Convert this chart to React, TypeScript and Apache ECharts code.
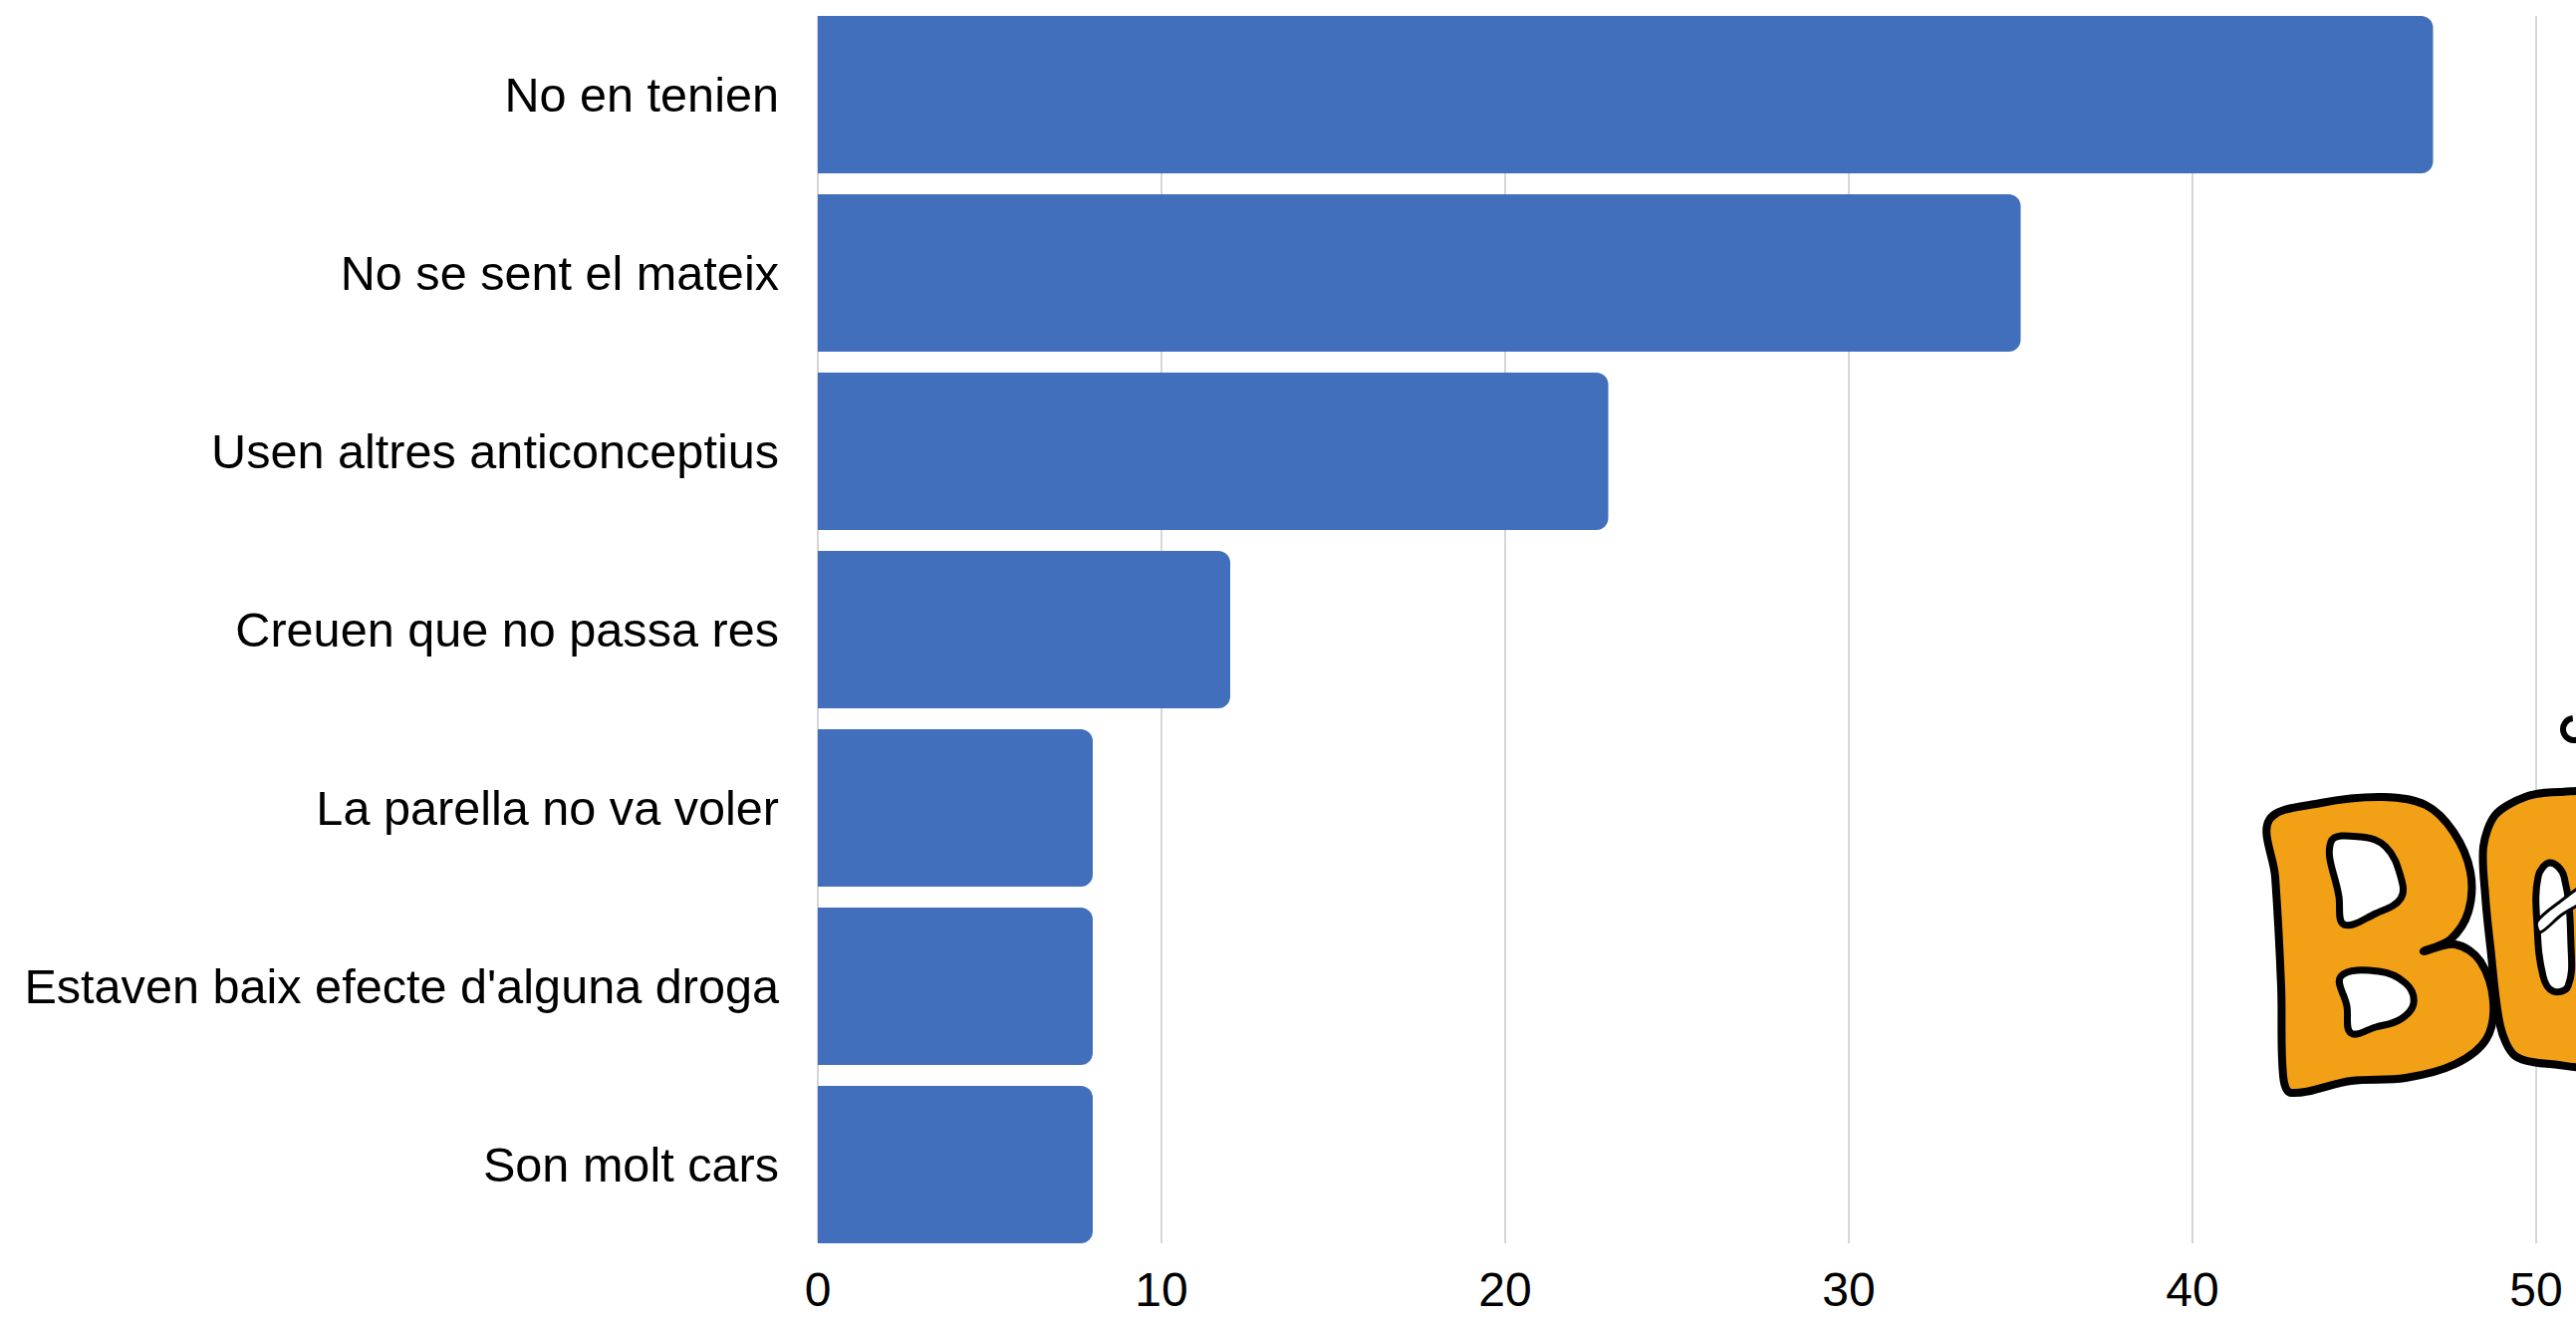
import React, { useEffect, useRef } from "react";
import * as echarts from "echarts";

const categories = [
  "No en tenien",
  "No se sent el mateix",
  "Usen altres anticonceptius",
  "Creuen que no passa res",
  "La parella no va voler",
  "Estaven baix efecte d'alguna droga",
  "Son molt cars",
];
const values = [47, 35, 23, 12, 8, 8, 8];
const axisMin = 0;
const axisMax = 50;
const axisStep = 10;

const FONT = "Liberation Sans, Arial, sans-serif";
const BAR_COLOR = "#426FBC";
const GRID_COLOR = "#c8c8c8";
const ORANGE = "#F2A116";

// Decorative logo (partially cut off at the right edge)
const logoB = [[2278, 823], [2330, 806], [2393, 800], [2435, 808], [2463, 835], [2480, 875], [2478, 915], [2460, 943], [2433, 955], [2465, 948], [2490, 965], [2503, 1005], [2496, 1043], [2465, 1068], [2415, 1082], [2360, 1085], [2300, 1097], [2292, 1080], [2290, 990], [2284, 880]];
const logoBHole1 = [[2340, 845], [2370, 840], [2395, 850], [2410, 880], [2410, 902], [2385, 917], [2353, 928], [2348, 900]];
const logoBHole2 = [[2350, 980], [2388, 975], [2415, 987], [2423, 1007], [2410, 1023], [2385, 1031], [2360, 1037], [2356, 1010]];
const logoO = [[2493, 850], [2505, 818], [2535, 800], [2570, 795], [2610, 800], [2610, 1065], [2560, 1068], [2525, 1060], [2510, 1030], [2500, 950], [2495, 900]];
const logoOHole = [[2548, 880], [2560, 866], [2574, 880], [2581, 950], [2578, 990], [2563, 995], [2553, 980], [2547, 930]];
const logoStripe = [[2547, 925], [2570, 905], [2610, 878], [2610, 894], [2572, 918], [2550, 936]];

export default function App() {
  const ref = useRef<HTMLDivElement>(null);
  useEffect(() => {
    if (!ref.current) return;
    const chart = echarts.init(ref.current, null, { renderer: "svg" });
    const stroke = { stroke: "#000", lineWidth: 8, lineJoin: "round" };
    chart.setOption({
      animation: false,
      backgroundColor: "#ffffff",
      textStyle: { fontFamily: FONT },
      grid: [
        { left: 821, right: 40, top: 5.5, bottom: 66.5, containLabel: false },
        { left: 821, right: 40, top: 16, bottom: 77, containLabel: false },
      ],
      xAxis: [
        { type: "value", gridIndex: 0, min: axisMin, max: axisMax, interval: axisStep, show: false },
        {
          type: "value",
          gridIndex: 1,
          min: axisMin,
          max: axisMax,
          interval: axisStep,
          axisLine: { show: false },
          axisTick: { show: false },
          axisLabel: { color: "#000", fontSize: 48, lineHeight: 38, fontFamily: FONT, margin: 27 },
          splitLine: { show: true, lineStyle: { color: GRID_COLOR, width: 1.5 } },
        },
      ],
      yAxis: [
        {
          type: "category",
          gridIndex: 0,
          data: categories,
          inverse: true,
          axisLine: { show: false },
          axisTick: { show: false },
          splitLine: { show: false },
          axisLabel: { color: "#000", fontSize: 48.6, fontFamily: FONT, margin: 39 },
        },
        {
          type: "category",
          gridIndex: 1,
          data: categories,
          inverse: true,
          show: false,
        },
      ],
      series: [
        {
          type: "bar",
          xAxisIndex: 0,
          yAxisIndex: 0,
          data: values,
          barCategoryGap: "11.7%",
          itemStyle: { color: BAR_COLOR, borderRadius: [0, 12, 12, 0] },
          z: 3,
        },
      ],
      graphic: [
        { type: "polygon", shape: { points: logoB, smooth: 0.35 }, style: { fill: ORANGE, ...stroke }, z: 10 },
        { type: "polygon", shape: { points: logoBHole1, smooth: 0.4 }, style: { fill: "#fff", ...stroke, lineWidth: 7 }, z: 11 },
        { type: "polygon", shape: { points: logoBHole2, smooth: 0.4 }, style: { fill: "#fff", ...stroke, lineWidth: 7 }, z: 11 },
        { type: "polygon", shape: { points: logoO, smooth: 0.3 }, style: { fill: ORANGE, ...stroke }, z: 10 },
        { type: "polygon", shape: { points: logoOHole, smooth: 0.4 }, style: { fill: "#fff", ...stroke, lineWidth: 7 }, z: 11 },
        { type: "polygon", shape: { points: logoStripe, smooth: 0.3 }, style: { fill: "#fff", stroke: "#000", lineWidth: 3 }, z: 12 },
        { type: "arc", shape: { cx: 2584, cy: 732, r: 11, startAngle: 1.2, endAngle: 4.6 }, style: { fill: "none", stroke: "#000", lineWidth: 6 }, z: 10 },
      ],
    });
    return () => chart.dispose();
  }, []);
  return (
    <div
      ref={ref}
      style={{ position: "absolute", left: 0, top: 0, width: 2586, height: 1325, background: "#fff" }}
    />
  );
}
